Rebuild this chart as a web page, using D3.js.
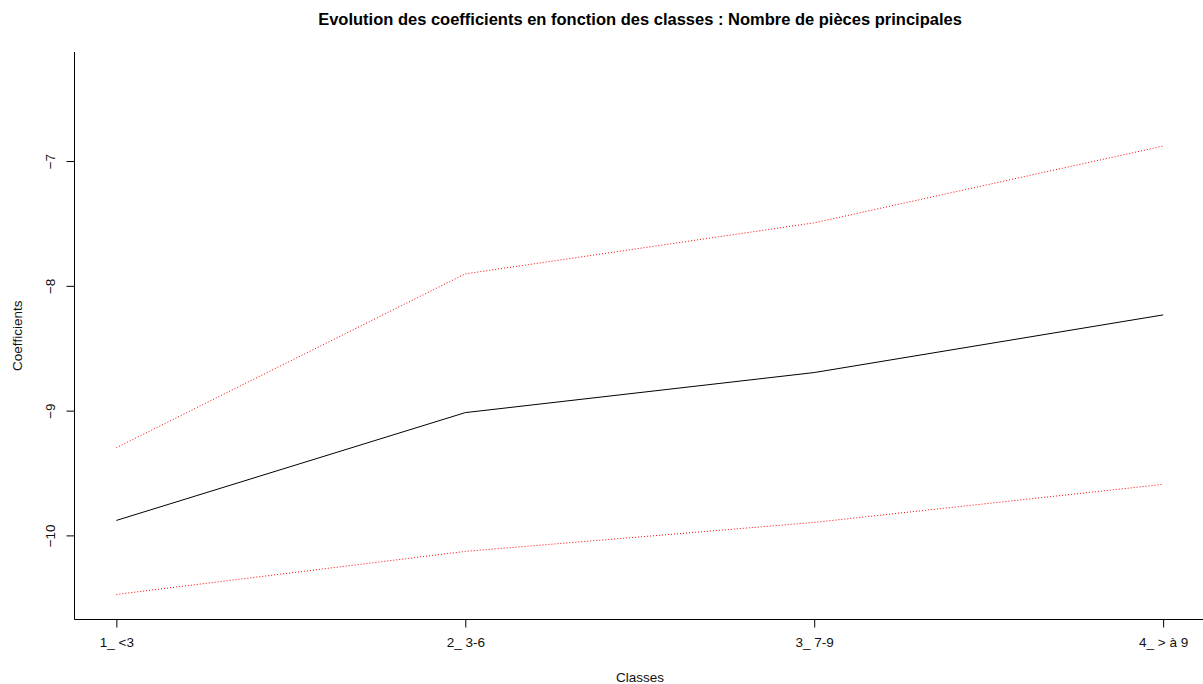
<!DOCTYPE html>
<html>
<head>
<meta charset="utf-8">
<script src="https://cdn.jsdelivr.net/npm/d3@7"></script>
<style>
  html, body { margin: 0; padding: 0; background: #fff; }
  svg { display: block; font-family: "Liberation Sans", Arial, sans-serif; }
</style>
</head>
<body>
<svg id="chart" width="1203" height="684"></svg>
<script>
// Classes of the number of main rooms
const classes = ["1_ <3", "2_ 3-6", "3_ 7-9", "4_ > à 9"];
// Estimated coefficient per class
const coef = [-9.88, -9.016, -8.695, -8.233];
// Confidence bounds
const upper = [-9.297, -7.904, -7.495, -6.88];
const lower = [-10.473, -10.128, -9.896, -9.591];
const yTicks = [-10, -9, -8, -7];

const svg = d3.select("#chart");
const plotLeft = 74.5, plotRight = 1205, plotTop = 52, plotBottom = 619.5;

const x = d3.scaleLinear().domain([0.88, 4.12]).range([plotLeft, plotRight]);
const y = d3.scaleLinear().domain([-10.674, -6.126]).range([plotBottom, plotTop]);

// Title
svg.append("text")
  .attr("x", 640).attr("y", 25)
  .attr("text-anchor", "middle")
  .attr("font-size", 16.5).attr("font-weight", "bold")
  .attr("fill", "#000")
  .text("Evolution des coefficients en fonction des classes : Nombre de pièces principales");

// Left and bottom frame
svg.append("line").attr("x1", plotLeft).attr("x2", plotLeft).attr("y1", plotTop).attr("y2", plotBottom)
  .attr("stroke", "#000").attr("stroke-width", 1);
svg.append("line").attr("x1", plotLeft).attr("x2", 1203).attr("y1", plotBottom).attr("y2", plotBottom)
  .attr("stroke", "#000").attr("stroke-width", 1);

// Y axis
const yAxis = d3.axisLeft(y).tickValues(yTicks).tickSize(8).tickPadding(0).tickFormat(d3.format("d"));
const gy = svg.append("g").attr("transform", `translate(${plotLeft},0)`).call(yAxis);
gy.select(".domain").remove();
gy.selectAll(".tick line").attr("stroke", "#000");
gy.selectAll(".tick text")
  .attr("x", 0).attr("dy", null)
  .attr("transform", "translate(-20,0) rotate(-90)")
  .attr("text-anchor", "middle")
  .attr("font-size", 13.5)
  .attr("fill", "#111")
  .attr("font-family", "'Liberation Sans', Arial, sans-serif");

// X axis
const xAxis = d3.axisBottom(x).tickValues([1, 2, 3, 4]).tickSize(8).tickPadding(10)
  .tickFormat(d => classes[d - 1]);
const gx = svg.append("g").attr("transform", `translate(0,${plotBottom})`).call(xAxis);
gx.select(".domain").remove();
gx.selectAll(".tick line").attr("stroke", "#000");
gx.selectAll(".tick text")
  .attr("font-size", 13.5)
  .attr("fill", "#111")
  .attr("font-family", "'Liberation Sans', Arial, sans-serif");

// Axis titles
svg.append("text")
  .attr("x", 640).attr("y", 682)
  .attr("text-anchor", "middle").attr("font-size", 13.5).attr("fill", "#111")
  .text("Classes");
svg.append("text")
  .attr("transform", `translate(22,${(plotTop + plotBottom) / 2}) rotate(-90)`)
  .attr("text-anchor", "middle").attr("font-size", 13.5).attr("fill", "#111")
  .text("Coefficients");

// Lines
const line = d3.line().x((d, i) => x(i + 1)).y(d => y(d));
svg.append("path").datum(upper).attr("d", line)
  .attr("fill", "none").attr("stroke", "#ff0000").attr("stroke-width", 1)
  .attr("stroke-dasharray", "1,2");
svg.append("path").datum(lower).attr("d", line)
  .attr("fill", "none").attr("stroke", "#ff0000").attr("stroke-width", 1)
  .attr("stroke-dasharray", "1,2");
svg.append("path").datum(coef).attr("d", line)
  .attr("fill", "none").attr("stroke", "#000").attr("stroke-width", 1);
</script>
</body>
</html>
